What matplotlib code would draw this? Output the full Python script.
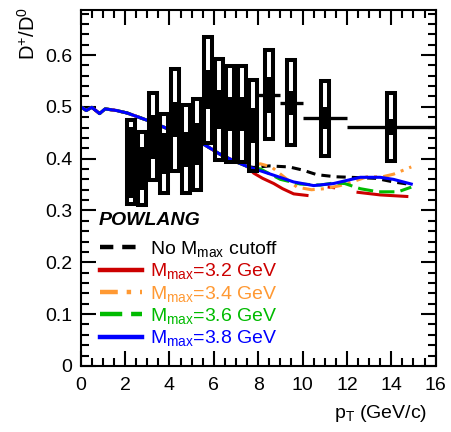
import numpy as np
import matplotlib
matplotlib.use('Agg')
from matplotlib import pyplot as plt
from matplotlib.patches import Rectangle
from matplotlib.lines import Line2D

plt.rcParams['font.family'] = ['Liberation Sans', 'DejaVu Sans']
plt.rcParams['mathtext.fontset'] = 'custom'
plt.rcParams['mathtext.rm'] = 'Liberation Sans'
plt.rcParams['mathtext.it'] = 'Liberation Sans:italic'
plt.rcParams['mathtext.bf'] = 'Liberation Sans:bold'

# D+/D0 ratio: bin centres, half bin widths, values, stat and syst errors
pt = [2.25, 2.75, 3.25, 3.75, 4.25, 4.75, 5.25, 5.75, 6.25, 6.75, 7.25, 7.75, 8.5, 9.5, 11, 14]
pt_halfbin = [0.25]*12 + [0.5, 0.5, 1.0, 2.0]
ratio = [0.393, 0.381, 0.442, 0.410, 0.475, 0.418, 0.428, 0.533, 0.495, 0.486, 0.486, 0.464,
         0.523, 0.508, 0.478, 0.461]
stat = [0.068, 0.041, 0.042, 0.039, 0.034, 0.034, 0.040, 0.038, 0.037, 0.033, 0.033, 0.033,
        0.034, 0.023, 0.021, 0.015]
syst = [0.081, 0.071, 0.084, 0.076, 0.098, 0.085, 0.088, 0.102, 0.098, 0.093, 0.093, 0.087,
        0.086, 0.082, 0.072, 0.066]

# POWLANG curves: common low-pT part, then the individual tails
pt_low = [0, 0.25, 0.5, 0.85, 1.1, 1.6, 2.1, 3.0, 3.9, 4.8, 5.5, 6.3, 7.0, 7.5]
r_low = [0.500, 0.493, 0.499, 0.487, 0.496, 0.493, 0.488, 0.474, 0.458, 0.442, 0.429, 0.408, 0.394, 0.385]

pt_nocut = [7.8, 8.5, 9.4, 10.0, 10.65, 11.5, 12.15, 13.3, 14.1, 14.9]
r_nocut = [0.383, 0.386, 0.384, 0.378, 0.369, 0.365, 0.364, 0.362, 0.355, 0.350]
pt_32 = [7.8, 8.2, 8.7, 9.1, 9.6, 10.2, np.nan, 11.2, 11.4, np.nan, 12.5, 13.5, 14.7]
r_32 = [0.372, 0.362, 0.352, 0.342, 0.332, 0.329, np.nan, 0.345, 0.344, np.nan, 0.335, 0.330, 0.327]
pt_34 = [8.1, 8.6, 9.3, 9.75, 10.4, 11.0, 11.7, 12.3, 12.9, 13.6, 14.1, 14.9]
r_34 = [0.390, 0.384, 0.360, 0.345, 0.340, 0.342, 0.348, 0.356, 0.365, 0.365, 0.370, 0.384]
pt_36 = [8.1, 9.0, 9.9, 10.8, 11.4, 11.9, 12.6, 13.4, 14.3, 14.9]
r_36 = [0.380, 0.360, 0.351, 0.349, 0.353, 0.352, 0.342, 0.336, 0.336, 0.345]
pt_38 = [8.0, 8.7, 9.6, 10.5, 11.4, 12.6, 13.5, 14.1, 14.9]
r_38 = [0.378, 0.368, 0.355, 0.348, 0.352, 0.364, 0.364, 0.360, 0.351]

labels = [r'No M$_{\mathrm{max}}$ cutoff', r'M$_{\mathrm{max}}$=3.2 GeV', r'M$_{\mathrm{max}}$=3.4 GeV',
          r'M$_{\mathrm{max}}$=3.6 GeV', r'M$_{\mathrm{max}}$=3.8 GeV']
colors = ['black', '#cc0000', '#ff9933', '#00bb00', '#0000ff']
styles = [(0, (3, 2)), '-', (0, (4, 2, 1, 2)), (0, (5, 2)), '-']
tails = [(pt_nocut, r_nocut), (pt_32, r_32), (pt_34, r_34), (pt_36, r_36), (pt_38, r_38)]

fig = plt.figure(figsize=(4.51, 4.32), dpi=100)
ax = fig.add_axes([0.179, 0.153, 0.787, 0.824])

for (tx, ty), c, ls in zip(tails, colors, styles):
    x = pt_low + list(tx)
    y = r_low + list(ty)
    ax.plot(x, y, color=c, ls=ls, lw=2.2, zorder=2)

# systematic boxes
for x, v, s in zip(pt, ratio, syst):
    ax.add_patch(Rectangle((x - 0.18, v - s), 0.36, 2*s, fill=False, ec='black', lw=2.9, zorder=3))
ax.errorbar(pt, ratio, xerr=pt_halfbin, fmt='none', ecolor='black', elinewidth=2.4, capsize=0, zorder=3)
ax.errorbar(pt, ratio, yerr=stat, fmt='none', ecolor='black', elinewidth=4.5, capsize=0, zorder=3)

ax.set_xlim(0, 16)
ax.set_ylim(0, 0.687)
ax.set_xticks(np.arange(0, 17, 2))
ax.set_xticks(np.arange(0, 16.01, 0.5), minor=True)
ax.set_yticks([0, 0.1, 0.2, 0.3, 0.4, 0.5, 0.6])
ax.set_yticklabels(['0', '0.1', '0.2', '0.3', '0.4', '0.5', '0.6'])
ax.set_yticks(np.arange(0, 0.687, 0.02), minor=True)
ax.tick_params(which='both', direction='in', top=True, right=True, width=1.5, labelsize=14)
ax.tick_params(which='major', length=11)
ax.tick_params(which='minor', length=5.5)
ax.tick_params(axis='x', pad=8)
ax.tick_params(axis='y', pad=6)
for sp in ax.spines.values():
    sp.set_linewidth(1.5)

fig.text(28/451, 1 - 7/432, r'D$^{+}$/D$^{0}$', rotation=90, ha='center', va='top', fontsize=14.5)
fig.text(427/451, 1 - 418/432, r'p$_{\mathrm{T}}$ (GeV/c)', ha='right', va='baseline', fontsize=14)
fig.text(99/451, 1 - 220/432, 'POWLANG', fontsize=14, fontweight='bold', style='italic', va='center')

handles = [Line2D([], [], color=c, ls=ls, lw=3.2) for c, ls in zip(colors, styles)]
leg = fig.legend(handles, labels, loc='upper left', bbox_to_anchor=(100/451, 1 - 239/432),
                 frameon=False, fontsize=14, handlelength=2.15, handletextpad=0.4,
                 borderpad=0, borderaxespad=0, labelspacing=0.12)
for t, c in zip(leg.get_texts(), colors):
    t.set_color(c)

fig.savefig('out.png', dpi=100)
